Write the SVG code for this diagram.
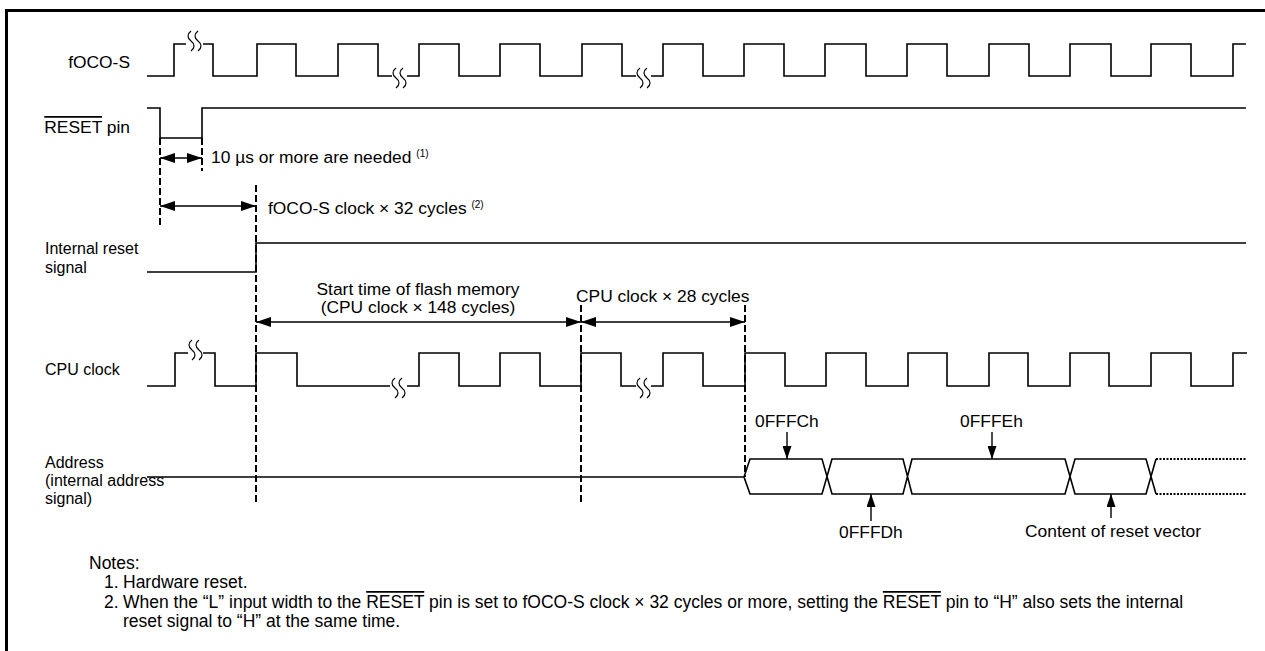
<svg xmlns="http://www.w3.org/2000/svg" width="1265" height="651" viewBox="0 0 1265 651">
<defs>
<style>
text{font-family:"Liberation Sans",Arial,Helvetica,sans-serif;font-size:17.4px;fill:#000}
.lbl{font-size:16px}
.sup{font-size:10px}
.note{font-size:17.5px}
.w{fill:none;stroke:#000;stroke-width:1.6;stroke-linejoin:miter}
.brk{fill:none;stroke:#000;stroke-width:1.2}
.dash{fill:none;stroke:#000;stroke-width:2;stroke-dasharray:7,3}
.dim{fill:none;stroke:#000;stroke-width:1.4;marker-start:url(#ah);marker-end:url(#ah)}
.lab{fill:none;stroke:#000;stroke-width:1.4;marker-end:url(#ah2)}
.dot{fill:none;stroke:#000;stroke-width:2;stroke-dasharray:2,1.5}
.ov{text-decoration:overline}
</style>
<marker id="ah" markerUnits="userSpaceOnUse" markerWidth="15" markerHeight="10" refX="15" refY="5" orient="auto-start-reverse"><path d="M0,0 L15,5 L0,10 z" fill="#000"/></marker>
<marker id="ah2" markerUnits="userSpaceOnUse" markerWidth="13" markerHeight="9" refX="13" refY="4.5" orient="auto"><path d="M0,0 L13,4.5 L0,9 z" fill="#000"/></marker>
</defs>
<rect width="1265" height="651" fill="#fff"/>
<g id="frame"><path d="M6.5,651 V10.5 H1265" fill="none" stroke="#000" stroke-width="3"/></g>

<g id="fOCO-S">
<text x="130" y="68" text-anchor="end">fOCO-S</text>
<path class="w" d="M147,76 H174 V44 H186 M203,44 H213 V76 H257 V44 H296 V76 H338 V44 H378 V76 H392 M407,76 H419 V44 H459 V76 H500 V44 H540 V76 H582 V44 H622 V76 H636 M651,76 H663 V44 H703 V76 H744 V44 H784 V76 H825 V44 H866 V76 H907 V44 H947 V76 H989 V44 H1029 V76 H1070 V44 H1111 V76 H1151 V44 H1191 V76 H1233 V44 H1246"/>
<path class="brk" d="M191,31 c-4,3 -4,7 0,10 c4,3 4,7 0,10 M198,31 c-4,3 -4,7 0,10 c4,3 4,7 0,10 M396,68 c-4,3 -4,7 0,10 c4,3 4,7 0,10 M403,68 c-4,3 -4,7 0,10 c4,3 4,7 0,10 M640,68 c-4,3 -4,7 0,10 c4,3 4,7 0,10 M647,68 c-4,3 -4,7 0,10 c4,3 4,7 0,10"/>
</g>

<g id="reset-pin">
<text x="130" y="133" text-anchor="end"><tspan class="ov">RESET</tspan> pin</text>
<path class="w" d="M147,108 H160 V138 H202 V108 H1246"/>
</g>

<g id="internal-reset">
<text class="lbl" x="45" y="254">Internal reset</text>
<text class="lbl" x="45" y="273">signal</text>
<path class="w" d="M147,272 H256 V243 H1246"/>
</g>

<g id="cpu-clock">
<text class="lbl" x="45" y="375">CPU clock</text>
<path class="w" d="M147,386 H175 V353 H188 M203,353 H215 V386 H256 V353 H297 V386 H390 M407,386 H419 V353 H459 V386 H500 V353 H540 V386 H581 V353 H621 V386 H636 M651,386 H663 V353 H703 V386 H745 V353 H785 V386 H826 V353 H866 V386 H908 V353 H947 V386 H989 V353 H1028 V386 H1070 V353 H1109 V386 H1151 V353 H1191 V386 H1233 V353 H1247"/>
<path class="brk" d="M192,340 c-4,3 -4,7 0,10 c4,3 4,7 0,10 M199,340 c-4,3 -4,7 0,10 c4,3 4,7 0,10 M395,378 c-4,3 -4,7 0,10 c4,3 4,7 0,10 M402,378 c-4,3 -4,7 0,10 c4,3 4,7 0,10 M640,378 c-4,3 -4,7 0,10 c4,3 4,7 0,10 M647,378 c-4,3 -4,7 0,10 c4,3 4,7 0,10"/>
</g>

<g id="address">
<text class="lbl" x="45" y="468">Address</text>
<text class="lbl" x="45" y="486">(internal address</text>
<text class="lbl" x="45" y="504">signal)</text>
<path class="w" d="M147,477 H744"/>
<path class="w" d="M744,477 L750,459 H822 L832,494 H903 L912,459 H1065 L1075,494 H1146 L1156,459 M744,477 L750,494 H822 L832,459 H903 L912,494 H1065 L1075,459 H1146 L1156,494"/>
<path class="dot" d="M1156,459 H1246 M1156,494 H1246"/>
</g>

<g id="bus-labels">
<text x="755" y="427">0FFFCh</text>
<text x="960" y="427">0FFFEh</text>
<text x="839" y="538">0FFFDh</text>
<text x="1025" y="537">Content of reset vector</text>
</g>

<g id="annotations">
<text x="211" y="163">10 µs or more are needed <tspan class="sup" dy="-6">(1)</tspan></text>
<text x="268" y="214">fOCO-S clock × 32 cycles <tspan class="sup" dy="-6">(2)</tspan></text>
<text x="418" y="295" text-anchor="middle">Start time of flash memory</text>
<text x="418" y="313" text-anchor="middle">(CPU clock × 148 cycles)</text>
<text x="576" y="302">CPU clock × 28 cycles</text>
</g>

<g id="connectors">
<path class="dash" d="M160,138 V227 M202,138 V171 M256,185 V505 M581,305 V505 M745,305 V477"/>
<line class="dim" x1="160" y1="158" x2="202" y2="158"/>
<line class="dim" x1="160" y1="206" x2="256" y2="206"/>
<line class="dim" x1="256" y1="322" x2="581" y2="322"/>
<line class="dim" x1="581" y1="322" x2="745" y2="322"/>
<line class="lab" x1="787" y1="432" x2="787" y2="459"/>
<line class="lab" x1="992" y1="432" x2="992" y2="459"/>
<line class="lab" x1="871" y1="521" x2="871" y2="494"/>
<line class="lab" x1="1111" y1="518" x2="1111" y2="494"/>
</g>

<g id="notes">
<text class="note" x="89" y="569">Notes:</text>
<text class="note" x="104" y="588">1.</text><text class="note" x="123" y="588">Hardware reset.</text>
<text class="note" x="104" y="608">2.</text><text class="note" x="123" y="608">When the “L” input width to the <tspan class="ov">RESET</tspan> pin is set to fOCO-S clock × 32 cycles or more, setting the <tspan class="ov">RESET</tspan> pin to “H” also sets the internal</text>
<text class="note" x="123" y="627">reset signal to “H” at the same time.</text>
</g>
</svg>
